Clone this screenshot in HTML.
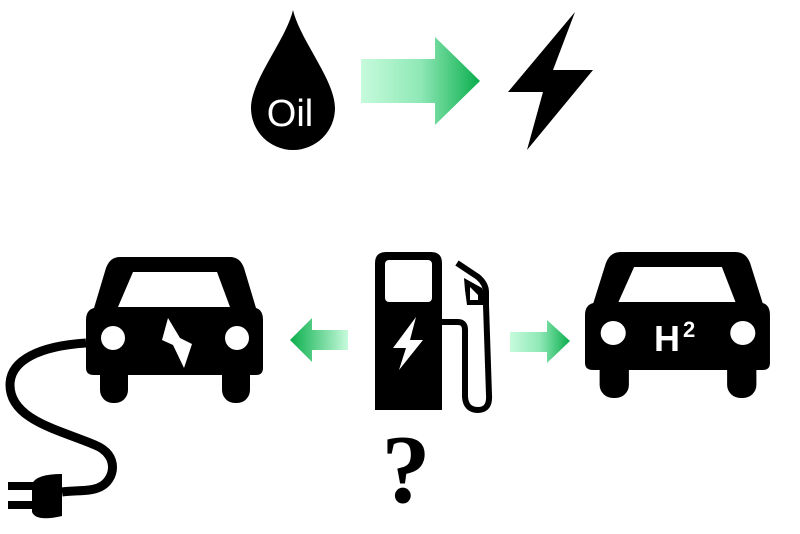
<!DOCTYPE html>
<html><head><style>html,body{margin:0;padding:0;background:#fff;width:800px;height:534px;overflow:hidden}</style></head>
<body>
<svg width="800" height="534" viewBox="0 0 800 534" xmlns="http://www.w3.org/2000/svg">
<defs>
<linearGradient id="gr" x1="0" x2="1" y1="0" y2="0"><stop offset="0" stop-color="#c6fbdc"/><stop offset="0.5" stop-color="#8fe8b6"/><stop offset="1" stop-color="#0aae4c"/></linearGradient>
<linearGradient id="gl" x1="1" x2="0" y1="0" y2="0"><stop offset="0" stop-color="#c6fbdc"/><stop offset="1" stop-color="#0aae4c"/></linearGradient>
<g id="car">
<path d="M120,257 H230 Q240,257 244,268 L256,308 Q263,310 263,320 V368 Q263,375 256,375 H94 Q86,375 86,368 V320 Q86,310 94,308 L106,268 Q110,257 120,257Z" fill="#000"/>
<rect x="100" y="355" width="28" height="48" rx="13" fill="#000"/>
<rect x="222" y="355" width="28" height="48" rx="13" fill="#000"/>
<path d="M133,272 H217 L230,307 H118Z" fill="#fff"/>
<circle cx="113" cy="338" r="12" fill="#fff"/>
<circle cx="237" cy="338" r="12" fill="#fff"/>
</g>
</defs>
<path d="M293,10 C300,40 335,80 335,108 A42,42 0 0 1 251,108 C251,80 286,40 293,10Z" fill="#000"/>
<text x="290" y="126" text-anchor="middle" font-family="Liberation Sans, sans-serif" font-size="38" fill="#fff">Oil</text>
<path d="M361,59 H435 V37 L480,81 L435,125 V103 H361Z" fill="url(#gr)"/>
<path d="M575,12 L508,92 L543,92 L527,150 L593,70 L553,70Z" fill="#000"/>
<use href="#car"/>
<path d="M168,318 L180,338 L192,344 L184,368 L173,345 L162,340Z" fill="#fff"/>
<path d="M86,343 C40,346 10,360 10,385 C10,420 60,430 95,445 C120,455 115,480 100,487 C90,492 75,490 62,492" fill="none" stroke="#000" stroke-width="9"/>
<path d="M62,474 Q36,474 32,484 V512 Q36,522 62,516 Z" fill="#000"/>
<rect x="8" y="482" width="26" height="8" fill="#000"/>
<rect x="8" y="501" width="26" height="8" fill="#000"/>
<path d="M348,330 H312 V318 L290,340 L312,362 V350 H348Z" fill="url(#gl)"/>
<path d="M386,252 H431 Q442,252 442,263 V410 H375 V263 Q375,252 386,252Z" fill="#000"/>
<rect x="385" y="260" width="47" height="42" rx="4" fill="#fff"/>
<path d="M416,317 L393,348 L406,348 L399,370 L423,340 L410,340Z" fill="#fff"/>
<path d="M440,322 H458 Q465,322 465,330 V397 Q466,410 478,410 Q490,410 489,395 L486,305 V292 Q486,284 478,277 L457,263" fill="none" stroke="#000" stroke-width="6"/>
<path d="M464,278 L482,288 L487,300 L487,305 L467,305 L465,290Z" fill="#000"/>
<path d="M470,287 L478,295 L478,300 L470,300Z" fill="#fff"/>
<path d="M510,332 H547 V320 L570,341 L547,363 V352 H510Z" fill="url(#gr)"/>
<g transform="translate(585,252) scale(1.045,1) translate(-86,-257)"><use href="#car"/></g>
<text x="654" y="351" font-family="Liberation Sans, sans-serif" font-weight="bold" font-size="36" fill="#fff">H</text>
<text x="683" y="337" font-family="Liberation Sans, sans-serif" font-weight="bold" font-size="22" fill="#fff">2</text>
<text x="406" y="502" text-anchor="middle" font-family="Liberation Serif, serif" font-weight="bold" font-size="98" fill="#000">?</text>
</svg>
</body></html>
